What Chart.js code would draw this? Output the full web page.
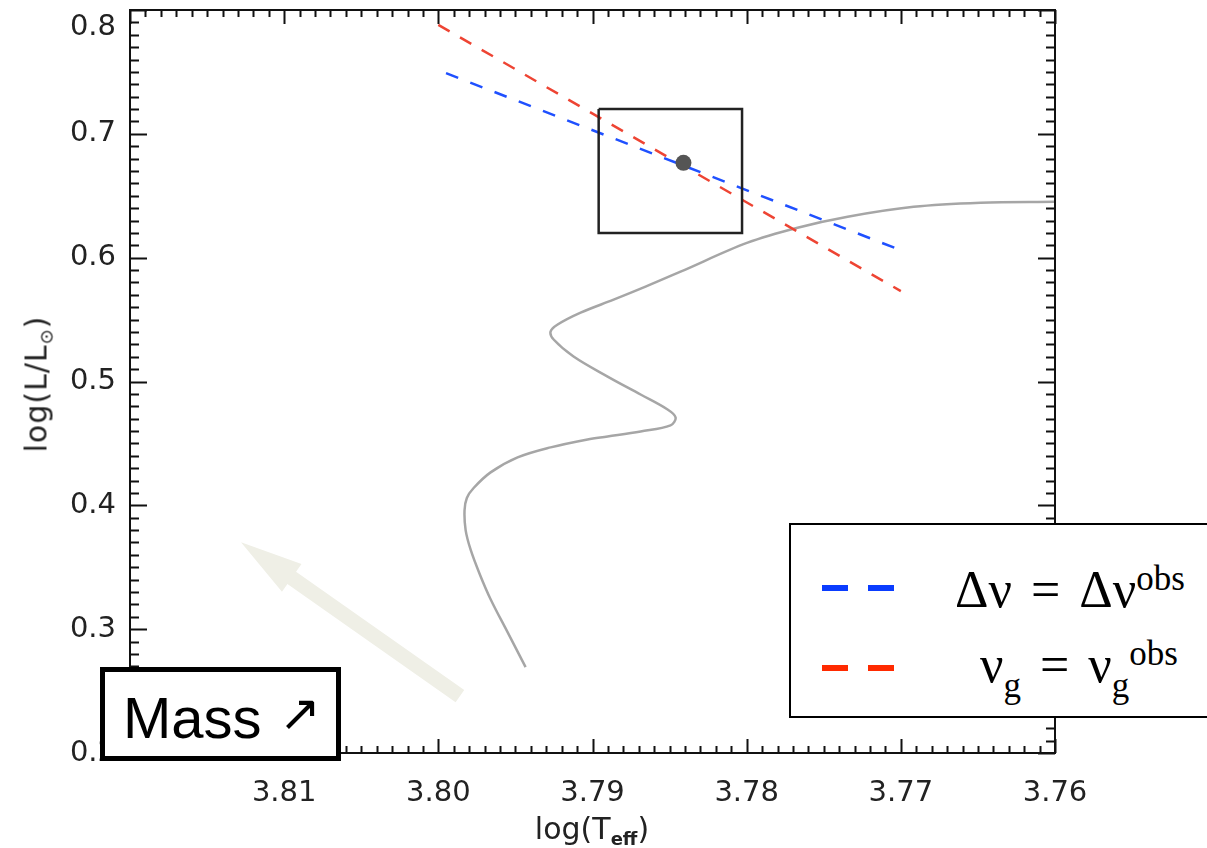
<!DOCTYPE html>
<html>
<head>
<meta charset="utf-8">
<script src="https://cdn.jsdelivr.net/npm/chart.js@4.4.1/dist/chart.umd.min.js"></script>
<style>
  body { margin: 0; background: #fff; }
  #wrap { position: relative; width: 1207px; height: 848px; overflow: hidden; }
  #chart { position: absolute; left: 0; top: 0; }
  .axis-title { position: absolute; font-family: "DejaVu Sans", sans-serif; font-size: 30px; color: #222; white-space: nowrap; }
  .axis-title sub { font-size: 18px; vertical-align: baseline; position: relative; top: 6px; }
  #ytitle { left: 36px; top: 384px; letter-spacing: 1px; transform: translate(-50%, -50%) rotate(-90deg); }
  #xtitle { left: 592px; top: 828px; transform: translate(-50%, -50%); }
  #xtitle sub { font-weight: bold; }
  #legend { position: absolute; left: 789px; top: 523px; width: 460px; height: 191px; border: 2px solid #000; background: #fff; }
  #legend .dash { position: absolute; height: 6px; width: 26px; }
  #legend .row { position: absolute; font-family: "Liberation Serif", "DejaVu Serif", serif; font-size: 52px; line-height: 1; white-space: nowrap; color: #000; }
  #legend .sup { font-size: 35px; position: relative; top: -17px; }
  #legend .sub { font-size: 35px; position: relative; top: 15px; }
  #legend .eq { margin: 0 19px; }
  #mass { position: absolute; left: 100px; top: 667px; width: 231px; height: 84px; border: 5px solid #000; background: #fff; }
  #mass span { position: absolute; font-family: "Liberation Sans", Arial, sans-serif; line-height: 1; white-space: nowrap; color: #000; }
</style>
</head>
<body>
<div id="wrap">
  <canvas id="chart" width="1207" height="848"></canvas>
  <div id="ytitle" class="axis-title">log(L/L<sub>⊙</sub>)</div>
  <div id="xtitle" class="axis-title">log(T<sub>eff</sub>)</div>
  <div id="legend">
    <div class="dash" style="left:31px; top:60px; background:#0a3cff;"></div>
    <div class="dash" style="left:77px; top:60px; background:#0a3cff;"></div>
    <div class="dash" style="left:31px; top:140px; background:#ff2a00;"></div>
    <div class="dash" style="left:77px; top:140px; background:#ff2a00;"></div>
    <div class="row" style="left:164px; top:39px;">Δν<span class="eq">=</span>Δν<span class="sup">obs</span></div>
    <div class="row" style="left:189px; top:114px;">ν<span class="sub">g</span><span class="eq">=</span>ν<span class="sub">g</span><span class="sup">obs</span></div>
  </div>
  <div id="mass">
    <span style="left:18px; top:17px; font-size:58px;">Mass</span>
    <span style="left:174px; top:16px; font-size:50px; font-family:'DejaVu Sans', sans-serif;">↗</span>
  </div>
</div>
<script>
// evolutionary track (grey)
const trackT = [3.79434, 3.79551, 3.79661, 3.79730, 3.79790, 3.79823, 3.79830, 3.79815, 3.79771,
  3.79661, 3.79486, 3.79272, 3.79032, 3.78902, 3.78688, 3.78494, 3.78461, 3.78513, 3.78688,
  3.78902, 3.79123, 3.79252, 3.79272, 3.79226, 3.79077, 3.78863, 3.78656, 3.78429, 3.77994,
  3.77670, 3.77345, 3.76917, 3.76483, 3.76000];
const trackL = [0.2694, 0.2976, 0.3242, 0.3440, 0.3640, 0.3800, 0.3960, 0.4060, 0.4140,
  0.4266, 0.4387, 0.4468, 0.4532, 0.4556, 0.4597, 0.4645, 0.4710, 0.4774, 0.4895,
  0.5040, 0.5202, 0.5339, 0.5403, 0.5460, 0.5556, 0.5661, 0.5766, 0.5887, 0.6121,
  0.6242, 0.6331, 0.6411, 0.6444, 0.6452];

// constraint lines
const deltaNuT = [3.7995, 3.7700];
const deltaNuL = [0.749, 0.606];
const nuGT = [3.8000, 3.7700];
const nuGL = [0.788, 0.573];

// observed star and error box
const starT = [3.7841];
const starL = [0.6766];
const boxT = [3.7896, 3.7803, 3.7803, 3.7896, 3.7896];
const boxL = [0.720, 0.720, 0.620, 0.620, 0.720];

// "mass increases" arrow, tail then tip
const massArrowT = [3.7986, 3.8128];
const massArrowL = [0.2460, 0.3702];

// axes
const xMin = 3.76, xMax = 3.82, xStep = 0.01, xMinor = 0.001;
const yMin = 0.2, yMax = 0.8, yStep = 0.1, yMinor = 0.01;

const pts = (xs, ys) => xs.map((v, i) => ({ x: v, y: ys[i] }));

const frameTicks = {
  id: 'frameTicks',
  afterDatasetsDraw(chart) {
    const { ctx, chartArea: a, scales: { x, y } } = chart;
    ctx.save();
    ctx.strokeStyle = '#111';
    ctx.lineWidth = 2;
    ctx.beginPath();
    const nx = Math.round((xMax - xMin) / xMinor);
    for (let i = 0; i <= nx; i++) {
      const px = Math.round(x.getPixelForValue(xMin + i * xMinor)) + 0.5;
      const len = i % 10 === 0 ? 14 : 7;
      ctx.moveTo(px, a.bottom); ctx.lineTo(px, a.bottom - len);
      ctx.moveTo(px, a.top); ctx.lineTo(px, a.top + len);
    }
    const ny = Math.round((yMax - yMin) / yMinor);
    for (let i = 0; i <= ny; i++) {
      const py = Math.round(y.getPixelForValue(yMin + i * yMinor)) + 0.5;
      const len = i % 10 === 0 ? 17 : 9;
      ctx.moveTo(a.left, py); ctx.lineTo(a.left + len, py);
      ctx.moveTo(a.right, py); ctx.lineTo(a.right - len, py);
    }
    ctx.stroke();
    ctx.strokeRect(a.left, a.top, a.right - a.left, a.bottom - a.top);
    ctx.restore();
  }
};

const massArrow = {
  id: 'massArrow',
  beforeDatasetsDraw(chart) {
    const { ctx, scales: { x, y } } = chart;
    const x0 = x.getPixelForValue(massArrowT[0]), y0 = y.getPixelForValue(massArrowL[0]);
    const x1 = x.getPixelForValue(massArrowT[1]), y1 = y.getPixelForValue(massArrowL[1]);
    const ang = Math.atan2(y1 - y0, x1 - x0);
    const len = Math.hypot(x1 - x0, y1 - y0);
    const shaft = 7.5, head = 17, headLen = 62;
    ctx.save();
    ctx.translate(x0, y0);
    ctx.rotate(ang);
    ctx.fillStyle = '#efefe6';
    ctx.beginPath();
    ctx.moveTo(0, -shaft);
    ctx.lineTo(len - headLen, -shaft);
    ctx.lineTo(len - headLen, -head);
    ctx.lineTo(len, 0);
    ctx.lineTo(len - headLen, head);
    ctx.lineTo(len - headLen, shaft);
    ctx.lineTo(0, shaft);
    ctx.closePath();
    ctx.fill();
    ctx.restore();
  }
};

const tickFont = { family: 'DejaVu Sans', size: 29 };

new Chart(document.getElementById('chart'), {
  type: 'scatter',
  data: {
    datasets: [
      { label: 'star', data: pts(starT, starL), pointRadius: 8, pointHoverRadius: 8,
        pointBackgroundColor: '#555', pointBorderWidth: 0, showLine: false },
      { label: 'box', data: pts(boxT, boxL), showLine: true, borderColor: '#222',
        borderWidth: 2.5, pointRadius: 0, tension: 0 },
      { label: 'Δν = Δν obs', data: pts(deltaNuT, deltaNuL), showLine: true, borderColor: '#1f50ff',
        borderWidth: 2.5, borderDash: [13, 13], pointRadius: 0 },
      { label: 'νg = νg obs', data: pts(nuGT, nuGL), showLine: true, borderColor: '#ee4433',
        borderWidth: 2.5, borderDash: [13, 12], pointRadius: 0 },
      { label: 'track', data: pts(trackT, trackL), showLine: true, borderColor: '#a6a6a6',
        borderWidth: 2.5, pointRadius: 0, tension: 0.35 }
    ]
  },
  options: {
    responsive: false,
    animation: false,
    layout: { padding: { top: 10, right: 152, left: 0, bottom: 0 } },
    plugins: { legend: { display: false }, tooltip: { enabled: false } },
    scales: {
      x: {
        type: 'linear', reverse: true, min: xMin, max: xMax,
        afterFit: (s) => { s.height = 95; s.paddingLeft = 0; s.paddingRight = 0; },
        grid: { display: false, drawTicks: false },
        border: { display: false },
        ticks: {
          stepSize: xStep, autoSkip: false, maxRotation: 0, padding: 23,
          color: '#222', font: tickFont,
          callback: (v) => Math.abs(v - xMax) < 1e-6 ? '' : v.toFixed(2)
        }
      },
      y: {
        type: 'linear', min: yMin, max: yMax,
        afterFit: (s) => { s.width = 130; s.paddingTop = 0; s.paddingBottom = 0; },
        grid: { display: false, drawTicks: false },
        border: { display: false },
        ticks: {
          stepSize: yStep, autoSkip: false, padding: 14,
          color: '#222', font: tickFont,
          // top label sits just below the frame corner, as in the original
          callback: (v) => Math.abs(v - yMax) < 1e-6 ? ['', v.toFixed(1)] : v.toFixed(1)
        }
      }
    }
  },
  plugins: [massArrow, frameTicks]
});
</script>
</body>
</html>
